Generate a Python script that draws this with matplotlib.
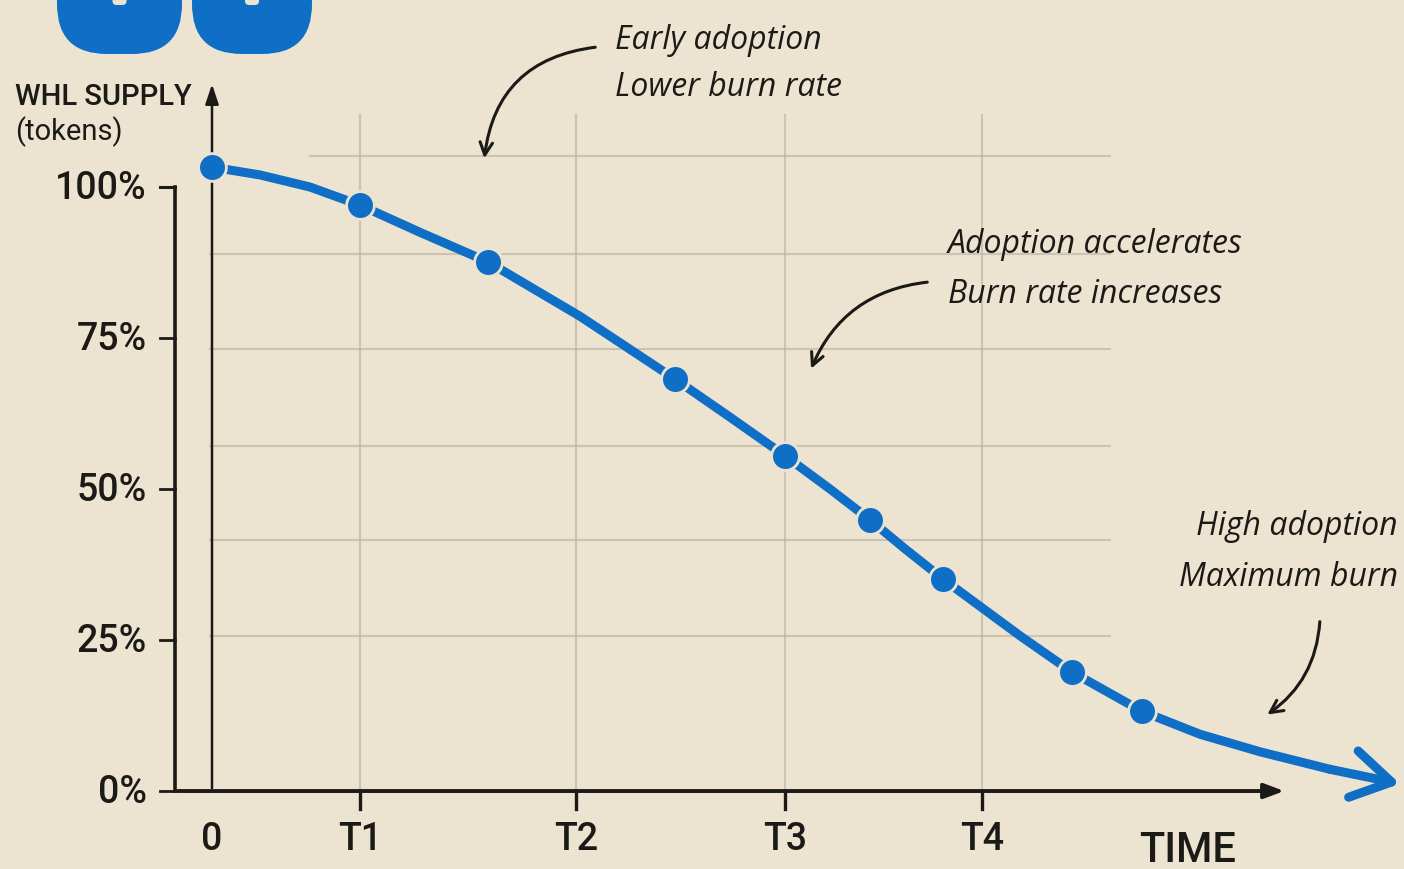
import numpy as np
import matplotlib.pyplot as plt
from matplotlib.patches import FancyBboxPatch


# Curve of the WHL supply (time units, % of initial supply)
curve_time = [0.00, 0.48, 0.98, 1.48, 2.08, 2.76, 3.68, 4.63, 5.18, 5.73,
              6.18, 6.58, 6.93, 7.31, 8.08, 8.60, 9.30, 9.88, 10.48, 11.18,
              11.88]
curve_supply = [103.3, 102.0, 100.0, 97.0, 92.5, 87.6, 78.6, 68.2, 61.9, 55.5,
                50.0, 44.9, 40.1, 35.1, 25.7, 19.7, 13.2, 9.4, 6.5, 3.6,
                1.2]

# Highlighted points on the curve
point_time = [0.00, 1.48, 2.76, 4.63, 5.73, 6.58, 7.31, 8.60, 9.30]
point_supply = [103.3, 97.0, 87.6, 68.2, 55.5, 44.9, 35.1, 19.7, 13.2]

# Axis ticks
time_ticks = [0.0, 1.48, 3.64, 5.73, 7.70]
time_labels = ['0', 'T1', 'T2', 'T3', 'T4']
supply_ticks = [0, 25, 50, 75, 100]
supply_labels = ['0%', '25%', '50%', '75%', '100%']

# Faint paper grid
grid_x = [1.48, 3.64, 5.73, 7.70]
grid_y = [25.7, 41.6, 57.1, 73.2, 88.9, 105.1]

# Notes: (lines, text x, text y, align, arrow start, arrow end, curvature)
notes = [
    (['Early adoption', 'Lower burn rate'], 4.03, [124.5, 116.6], 'left',
     (3.86, 123.2), (2.72, 104.3), 0.4),
    (['Adoption accelerates', 'Burn rate increases'], 7.36, [90.7, 82.3], 'left',
     (7.18, 84.3), (5.98, 69.5), 0.3),
    (['High adoption', 'Maximum burn'], 11.86, [43.9, 35.6], 'right',
     (11.08, 28.5), (10.53, 12.4), -0.25),
]

BG = '#ece4d1'
BLUE = '#0f6fc6'
INK = '#1c1a17'
GRID = '#b9ae9c'
LABEL_FONT = ['Roboto', 'DejaVu Sans']
HAND_FONT = ['Open Sans', 'DejaVu Sans']


def draw_header(fig):
    """Blue blobs cut off at the top of the page"""
    deco = fig.add_axes([0, 0, 1, 1], zorder=5)
    deco.set_xlim(0, 1404)
    deco.set_ylim(870, 0)
    deco.axis('off')
    for x0, x1 in [(57, 182), (192, 312)]:
        deco.add_patch(FancyBboxPatch((x0 + 50, -100), x1 - x0 - 100, 105,
                                      boxstyle='round,pad=50',
                                      facecolor=BLUE, edgecolor='none'))
        cx = (x0 + x1) / 2
        deco.add_patch(FancyBboxPatch((cx - 3, -10), 6, 12,
                                      boxstyle='round,pad=4',
                                      facecolor=BG, edgecolor='none'))


def main():
    fig = plt.figure(figsize=(14.04, 8.70), dpi=100, facecolor=BG)
    ax = fig.add_axes([0, 0, 1, 1])
    ax.set_facecolor(BG)
    ax.set_xlim(-2.12, 11.92)
    ax.set_ylim(-12.91, 131.13)
    ax.axis('off')

    # grid
    for gx in grid_x:
        ax.plot([gx, gx], [0, 112], color=GRID, lw=1.5, alpha=0.6, zorder=1)
    for gy in grid_y:
        x_start = 0.98 if gy > 100 else -0.02
        ax.plot([x_start, 8.98], [gy, gy], color=GRID, lw=1.5, alpha=0.6, zorder=1)

    # axes
    ax.plot([-0.37, -0.37], [0, 100], color=INK, lw=2.6, zorder=2)
    ax.plot([-0.52, -0.37], [100, 100], color=INK, lw=2.2, zorder=2)
    ax.annotate('', xy=(10.75, 0), xytext=(-0.37, 0),
                arrowprops=dict(arrowstyle='-|>,head_length=1.2,head_width=0.45',
                                color=INK, lw=2.8), zorder=2)
    ax.annotate('', xy=(0, 117.5), xytext=(0, 0),
                arrowprops=dict(arrowstyle='-|>,head_length=1.2,head_width=0.4',
                                color=INK, lw=1.8), zorder=2)

    for t, lab in zip(time_ticks, time_labels):
        if t > 0:
            ax.plot([t, t], [0, -3.0], color=INK, lw=2.4, zorder=2)
        ax.text(t, -7.9, lab, ha='center', va='center', fontsize=27,
                family=LABEL_FONT, fontweight='medium', color=INK)
    for s, lab in zip(supply_ticks, supply_labels):
        ax.plot([-0.52, -0.37], [s, s], color=INK, lw=2.0, zorder=2)
        ax.text(-0.65, s, lab, ha='right', va='center', fontsize=27,
                family=LABEL_FONT, fontweight='medium', color=INK)

    ax.text(-1.97, 115.1, 'WHL SUPPLY', ha='left', va='center', fontsize=21,
            family=LABEL_FONT, fontweight='medium', color=INK)
    ax.text(-1.97, 109.3, '(tokens)', ha='left', va='center', fontsize=21,
            family=LABEL_FONT, color=INK)
    ax.text(9.76, -9.6, 'TIME', ha='center', va='center', fontsize=30,
            family=LABEL_FONT, fontweight='medium', color=INK)

    # supply curve
    ax.plot(curve_time[:-1], curve_supply[:-1], color=BLUE, lw=6.5,
            solid_capstyle='round', solid_joinstyle='round', zorder=3)
    ax.annotate('', xy=(curve_time[-1], curve_supply[-1]),
                xytext=(curve_time[-2], curve_supply[-2]),
                arrowprops=dict(arrowstyle='->,head_length=2.8,head_width=1.7',
                                color=BLUE, lw=6.5, capstyle='round',
                                joinstyle='round', shrinkA=0, shrinkB=0),
                zorder=3)
    ax.plot(point_time, point_supply, 'o', color=BLUE, markersize=20,
            markeredgecolor=BG, markeredgewidth=2, zorder=4)

    # hand-written notes
    for lines, tx, tys, align, start, end, rad in notes:
        for line, ty in zip(lines, tys):
            ax.text(tx, ty, line, ha=align, va='center', fontsize=23,
                    family=HAND_FONT, style='italic', color=INK)
        ax.annotate('', xy=end, xytext=start,
                    arrowprops=dict(arrowstyle='->,head_length=0.9,head_width=0.45',
                                    connectionstyle=f'arc3,rad={rad}',
                                    color=INK, lw=2.2))

    draw_header(fig)
    fig.savefig('out.png', dpi=100, facecolor=BG)


main()
